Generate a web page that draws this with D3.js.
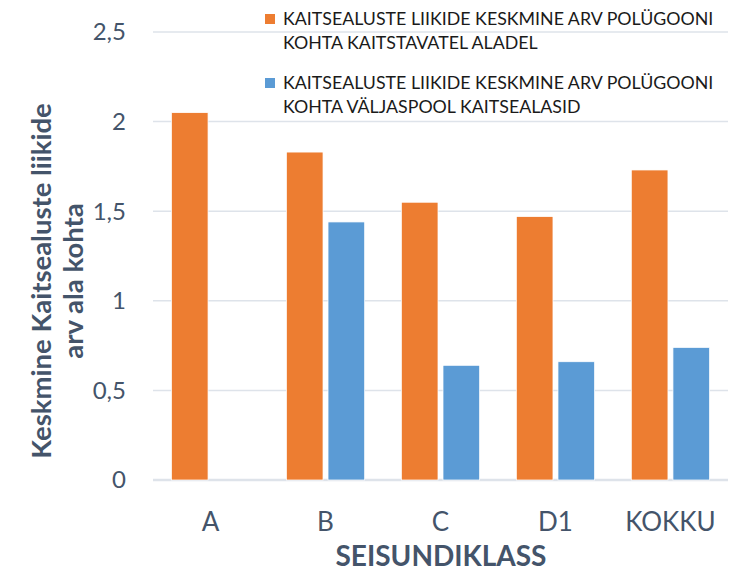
<!DOCTYPE html>
<html>
<head>
<meta charset="utf-8">
<script src="https://cdn.jsdelivr.net/npm/d3@7"></script>
<style>
  html, body { margin: 0; padding: 0; background: #fff; }
  svg text { font-family: Lato, "Open Sans", sans-serif; }
</style>
</head>
<body>
<div id="chart"></div>
<script>
'use strict'

// chart data
const categories = ['A', 'B', 'C', 'D1', 'KOKKU'];
const seriesNames = [
  ['KAITSEALUSTE LIIKIDE KESKMINE ARV POLÜGOONI', 'KOHTA KAITSTAVATEL ALADEL'],
  ['KAITSEALUSTE LIIKIDE KESKMINE ARV POLÜGOONI', 'KOHTA VÄLJASPOOL KAITSEALASID']
];
const protectedValues = [2.05, 1.83, 1.55, 1.47, 1.73];
const outsideValues = [null, 1.44, 0.64, 0.66, 0.74];
const yTicks = [0, 0.5, 1, 1.5, 2, 2.5];
const yTitle = ['Keskmine Kaitsealuste liikide', 'arv ala kohta'];
const xTitle = 'SEISUNDIKLASS';

const colors = ['#ED7D31', '#5B9BD5'];
const textColor = '#44546A';
const gridColor = '#DEE3EA';

const width = 731;
const height = 573;

const svg = d3.select('#chart').append('svg')
  .attr('width', width)
  .attr('height', height);

const plot = { left: 153, right: 728, top: 32, bottom: 480 };

const x0 = d3.scaleBand()
  .domain(categories)
  .range([plot.left, plot.right])
  .paddingInner(0.319)
  .paddingOuter(0.16);

const x1 = d3.scaleBand()
  .domain([0, 1])
  .range([0, x0.bandwidth()])
  .paddingInner(0.12)
  .paddingOuter(0);

const y = d3.scaleLinear()
  .domain([0, 2.5])
  .range([plot.bottom, plot.top]);

const fmt = d => String(d).replace('.', ',');

// gridlines
svg.append('g')
  .selectAll('line')
  .data(yTicks)
  .join('line')
  .attr('x1', plot.left)
  .attr('x2', plot.right)
  .attr('y1', d => y(d))
  .attr('y2', d => y(d))
  .attr('stroke', gridColor)
  .attr('stroke-width', d => d === 0 ? 2.5 : 1.5);

// y tick labels
svg.append('g')
  .selectAll('text')
  .data(yTicks)
  .join('text')
  .attr('x', 126)
  .attr('y', d => y(d))
  .attr('dy', '0.35em')
  .attr('text-anchor', 'end')
  .attr('font-size', 24)
  .attr('fill', textColor)
  .text(fmt);

// bars
const rows = categories.map((c, i) => ({ cat: c, vals: [protectedValues[i], outsideValues[i]] }));

const groups = svg.append('g')
  .selectAll('g')
  .data(rows)
  .join('g')
  .attr('transform', d => `translate(${x0(d.cat)},0)`);

groups.selectAll('rect')
  .data(d => d.vals.map((v, s) => ({ v, s })).filter(e => e.v != null))
  .join('rect')
  .attr('x', d => x1(d.s))
  .attr('width', x1.bandwidth())
  .attr('y', d => y(d.v))
  .attr('height', d => y(0) - y(d.v))
  .attr('fill', d => colors[d.s])
  .attr('stroke', '#fff')
  .attr('stroke-width', 0.75);

// x tick labels
svg.append('g')
  .selectAll('text')
  .data(categories)
  .join('text')
  .attr('x', d => x0(d) + x0.bandwidth() / 2)
  .attr('y', 531)
  .attr('text-anchor', 'middle')
  .attr('font-size', 26)
  .attr('fill', textColor)
  .text(d => d);

// axis titles
svg.append('text')
  .attr('x', 441)
  .attr('y', 566)
  .attr('text-anchor', 'middle')
  .attr('font-size', 28)
  .attr('font-weight', 'bold')
  .attr('fill', textColor)
  .text(xTitle);

svg.append('g')
  .attr('transform', 'translate(0,281) rotate(-90)')
  .selectAll('text')
  .data(yTitle)
  .join('text')
  .attr('x', 0)
  .attr('y', (d, i) => 51 + i * 32)
  .attr('text-anchor', 'middle')
  .attr('font-size', 27.5)
  .attr('font-weight', 'bold')
  .attr('fill', textColor)
  .text(d => d);

// legend
const legend = svg.append('g')
  .selectAll('g')
  .data(seriesNames)
  .join('g')
  .attr('transform', (d, i) => `translate(265,${i === 0 ? 0 : 64})`);

legend.append('rect')
  .attr('x', 0)
  .attr('y', 14)
  .attr('width', 10)
  .attr('height', 10)
  .attr('fill', (d, i) => colors[i]);

legend.selectAll('text')
  .data(d => d)
  .join('text')
  .attr('x', 18)
  .attr('y', (d, i) => 25 + i * 23.5)
  .attr('font-size', 17.8)
  .attr('fill', '#1a1a1a')
  .text(d => d);
</script>
</body>
</html>
